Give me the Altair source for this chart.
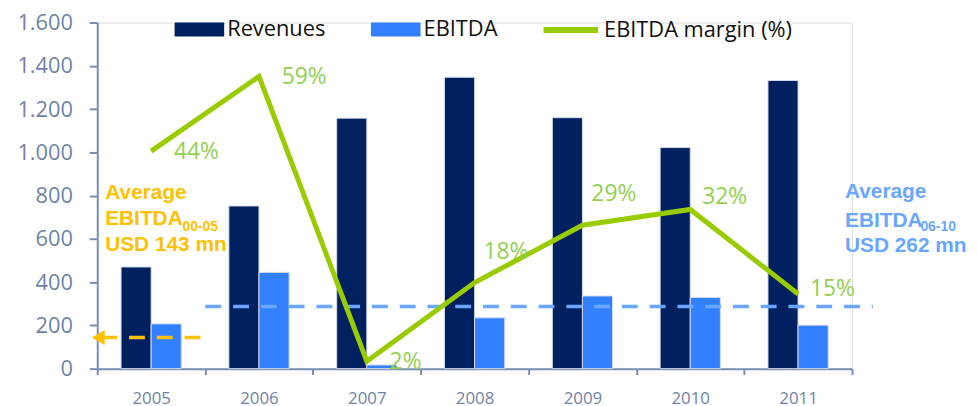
import altair as alt
import pandas as pd

years = ["2005", "2006", "2007", "2008", "2009", "2010", "2011"]
revenues = [470, 752, 1158, 1347, 1160, 1022, 1332]
ebitda = [207, 445, 17, 235, 336, 329, 201]
margin = [44.0, 59.1, 1.5, 17.4, 29.0, 32.2, 15.1]
margin_labels = ["44%", "59%", "2%", "18%", "29%", "32%", "15%"]
series_names = ["Revenues", "EBITDA"]
line_name = "EBITDA margin (%)"
avg_00_05 = 144
avg_06_10 = 287
y_ticks = [0, 200, 400, 600, 800, 1000, 1200, 1400, 1600]

NAVY = "#002060"
BLUE = "#3380ff"
GREEN = "#99cc00"
LGREEN = "#92d050"
ORANGE = "#ffc000"
LBLUE = "#69a6ff"
AXIS = "#7a8eb4"
LABEL = "#6f83a8"

bars_df = pd.DataFrame(
    [{"year": y, "series": series_names[0], "value": r} for y, r in zip(years, revenues)]
    + [{"year": y, "series": series_names[1], "value": e} for y, e in zip(years, ebitda)]
)
line_df = pd.DataFrame({"year": years, "margin": margin, "label": margin_labels,
                        "s": [line_name] * len(years)})
one = pd.DataFrame({"k": [0]})

x_enc = alt.X("year:N", sort=years,
              scale=alt.Scale(paddingInner=0, paddingOuter=0),
              axis=alt.Axis(title=None, labelAngle=0, labelFont="Open Sans", labelFontSize=17,
                            labelColor=LABEL, tickBand="extent", tickSize=6, tickWidth=2,
                            tickColor=AXIS, domainColor=AXIS, domainWidth=2, labelPadding=16))

bars = alt.Chart(bars_df).mark_bar(stroke="#d5dbe8", strokeWidth=1).encode(
    x=x_enc,
    xOffset=alt.XOffset("series:N", sort=series_names,
                        scale=alt.Scale(paddingOuter=0.79, paddingInner=0)),
    y=alt.Y("value:Q", scale=alt.Scale(domain=[0, 1600]),
            axis=alt.Axis(title=None, values=y_ticks, grid=False, tickSize=8, tickWidth=2,
                          tickColor=AXIS, domainColor=AXIS, domainWidth=2, labelPadding=17,
                          labelFont="Open Sans", labelFontSize=22, labelColor=LABEL,
                          labelExpr="replace(format(datum.value, ','), ',', '.')")),
    color=alt.Color("series:N", scale=alt.Scale(domain=series_names, range=[NAVY, BLUE]),
                    legend=alt.Legend(title=None, orient="none", legendX=78, legendY=-18,
                                      direction="horizontal",
                                      symbolType="M-1,-0.28H1V0.28H-1Z", symbolSize=2500,
                                      symbolStrokeWidth=0, labelFont="Open Sans",
                                      labelFontSize=22, labelColor="#111111", labelOffset=3,
                                      labelLimit=400, columnPadding=45, padding=0)),
)

rule_orange = alt.Chart(one).mark_rule(color=ORANGE, strokeWidth=3.5, strokeDash=[16, 12]).encode(
    x=alt.value(4), x2=alt.value(107), y=alt.datum(avg_00_05))
arrow = alt.Chart(one).mark_point(shape="triangle-left", filled=True, size=225,
                                  color=ORANGE, opacity=1).encode(
    x=alt.value(1), y=alt.datum(avg_00_05))
rule_blue = alt.Chart(one).mark_rule(color=LBLUE, strokeWidth=3.5, strokeDash=[16, 12]).encode(
    x=alt.value(109), x2=alt.value(782), y=alt.datum(avg_06_10))

left = alt.layer(bars, rule_blue, rule_orange, arrow)

line = alt.Chart(line_df).mark_line(strokeWidth=5, strokeJoin="miter", strokeCap="butt").encode(
    x=alt.X("year:N", sort=years),
    y=alt.Y("margin:Q", scale=alt.Scale(domain=[0, 69.5]), axis=None),
    stroke=alt.Stroke("s:N", scale=alt.Scale(domain=[line_name], range=[GREEN]),
                      legend=alt.Legend(title=None, orient="none", legendX=447, legendY=-23,
                                        direction="horizontal", symbolSize=3025,
                                        symbolStrokeWidth=6, labelFont="Open Sans",
                                        labelFontSize=22, labelColor="#111111",
                                        labelLimit=400, labelOffset=3, padding=0)),
)

label_groups = [
    (["2005", "2006", "2007"], 23, 1),
    (["2008", "2009"], 9, -31),
    (["2010"], 12, -12),
    (["2011"], 12, -5),
]
text_layers = []
for ys, dx, dy in label_groups:
    text_layers.append(
        alt.Chart(line_df).transform_filter(alt.FieldOneOfPredicate(field="year", oneOf=ys))
        .mark_text(align="left", baseline="middle", dx=dx, dy=dy, font="Open Sans",
                   fontSize=23, color=LGREEN)
        .encode(x=alt.X("year:N", sort=years), y=alt.Y("margin:Q"), text="label:N")
    )

right = alt.layer(line, *text_layers)


def ann(txt, x, y, color, size=21):
    return alt.Chart(one).mark_text(align="left", baseline="alphabetic", font="Liberation Sans",
                                    fontWeight="bold", fontSize=size, color=color,
                                    text=txt).encode(x=alt.value(x), y=alt.value(y))


annotations = alt.layer(
    ann("Average", 8, 178, ORANGE),
    ann("EBITDA", 8, 204, ORANGE),
    ann("00-05", 86, 210, ORANGE, 14),
    ann("USD 143 mn", 8, 230, ORANGE),
    ann("Average", 754, 177, LBLUE),
    ann("EBITDA", 754, 206, LBLUE),
    ann("06-10", 830, 210, LBLUE, 14),
    ann("USD 262 mn", 754, 231, LBLUE),
)

chart = alt.layer(left, right, annotations).resolve_scale(y="independent").properties(
    width=761, height=349,
    autosize=alt.AutoSizeParams(type="none"),
    padding={"left": 90, "top": 13, "right": 118, "bottom": 36},
).configure_view(stroke=None).configure(background="white")

chart.save("out.html", embed_options={"renderer": "svg", "actions": False})
